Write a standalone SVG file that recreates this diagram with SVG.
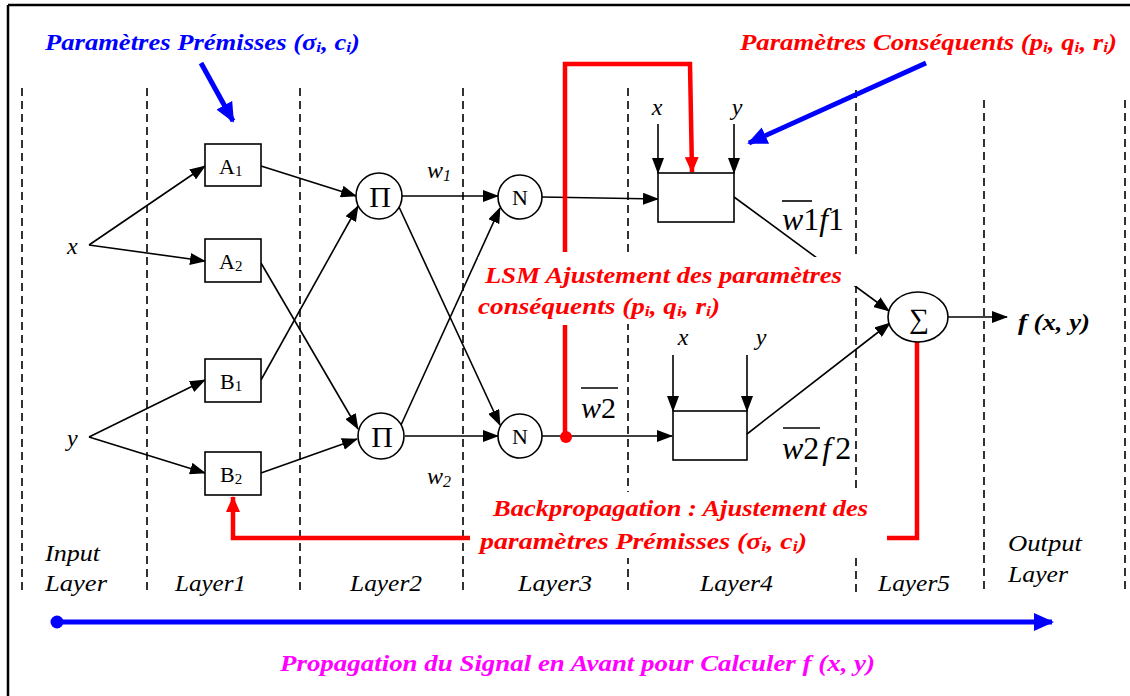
<svg xmlns="http://www.w3.org/2000/svg" width="1130" height="696" viewBox="0 0 1130 696">
<style>
.dash{stroke:#000;stroke-width:1.6;stroke-dasharray:8,5;fill:none}
.ln{stroke:#000;stroke-width:1.6;fill:none}
.box{fill:#fff;stroke:#000;stroke-width:1.6}
.red{stroke:#ff0000;stroke-width:4.5;fill:none}
.blue{stroke:#0000ff;stroke-width:5;fill:none}
.t{font-family:"Liberation Serif","Times New Roman",serif;fill:#000}
.ti{font-family:"Liberation Serif","Times New Roman",serif;font-style:italic;fill:#000}
.tbi{font-family:"Liberation Serif","Times New Roman",serif;font-style:italic;font-weight:bold}
.lay{font-family:"Liberation Serif","Times New Roman",serif;font-style:italic;font-size:23px;fill:#000}
</style>
<defs>
<marker id="ah" markerUnits="userSpaceOnUse" markerWidth="16" markerHeight="12" refX="15" refY="6" orient="auto"><path d="M0,0 L16,6 L0,12 z" fill="#000"/></marker>
<marker id="ahr" markerUnits="userSpaceOnUse" markerWidth="16" markerHeight="14" refX="15" refY="7" orient="auto"><path d="M0,0 L16,7 L0,14 z" fill="#ff0000"/></marker>
<marker id="ahb" markerUnits="userSpaceOnUse" markerWidth="20" markerHeight="18" refX="18" refY="9" orient="auto"><path d="M0,0 L20,9 L0,18 z" fill="#0000ff"/></marker>
</defs>
<rect width="1130" height="696" fill="#fff"/>
<g id="frame">
<path d="M8,5 H1130 M8,5 V696" stroke="#000" stroke-width="2.5" fill="none"/>
</g>
<g id="layer-separators">
<line class="dash" x1="22" y1="88" x2="22" y2="592"/>
<line class="dash" x1="147" y1="88" x2="147" y2="592"/>
<line class="dash" x1="300" y1="88" x2="300" y2="592"/>
<line class="dash" x1="463" y1="88" x2="463" y2="592"/>
<line class="dash" x1="628" y1="88" x2="628" y2="592"/>
<line class="dash" x1="856" y1="90" x2="856" y2="592"/>
<line class="dash" x1="984" y1="100" x2="984" y2="592"/>
<line class="dash" x1="1125" y1="100" x2="1125" y2="592"/>
</g>
<g id="connectors">
<line class="ln" x1="89" y1="245" x2="205" y2="166" marker-end="url(#ah)"/>
<line class="ln" x1="89" y1="245" x2="205" y2="261" marker-end="url(#ah)"/>
<line class="ln" x1="89" y1="437" x2="205" y2="380" marker-end="url(#ah)"/>
<line class="ln" x1="89" y1="437" x2="205" y2="473" marker-end="url(#ah)"/>
<line class="ln" x1="261" y1="166" x2="356" y2="196" marker-end="url(#ah)"/>
<line class="ln" x1="261" y1="380" x2="358" y2="206" marker-end="url(#ah)"/>
<line class="ln" x1="261" y1="263" x2="358" y2="429" marker-end="url(#ah)"/>
<line class="ln" x1="261" y1="473" x2="357" y2="439" marker-end="url(#ah)"/>
<line class="ln" x1="402" y1="196" x2="498" y2="196" marker-end="url(#ah)"/>
<line class="ln" x1="399" y1="207" x2="500" y2="425" marker-end="url(#ah)"/>
<line class="ln" x1="401" y1="425" x2="500" y2="208" marker-end="url(#ah)"/>
<line class="ln" x1="405" y1="436" x2="498" y2="436" marker-end="url(#ah)"/>
<line class="ln" x1="542" y1="197" x2="658" y2="199" marker-end="url(#ah)"/>
<line class="ln" x1="542" y1="436" x2="672" y2="436" marker-end="url(#ah)"/>
<line class="ln" x1="658" y1="124" x2="658" y2="173" marker-end="url(#ah)"/>
<line class="ln" x1="734" y1="124" x2="734" y2="173" marker-end="url(#ah)"/>
<line class="ln" x1="673" y1="355" x2="673" y2="411" marker-end="url(#ah)"/>
<line class="ln" x1="747" y1="355" x2="747" y2="411" marker-end="url(#ah)"/>
<line class="ln" x1="734" y1="197" x2="889" y2="311" marker-end="url(#ah)"/>
<line class="ln" x1="747" y1="434" x2="890" y2="323" marker-end="url(#ah)"/>
<line class="ln" x1="948" y1="317" x2="1007" y2="317" marker-end="url(#ah)"/>
<path class="red" d="M565,252 V64 H690 L692,172" marker-end="url(#ahr)"/>
<line class="red" x1="565" y1="325" x2="565" y2="437"/>
<circle cx="566" cy="437" r="6" fill="#ff0000"/>
<path class="red" d="M475,538 H233 V497" marker-end="url(#ahr)"/>
<path class="red" d="M887,538 H917 V337"/>
<circle cx="917" cy="337" r="6" fill="#ff0000"/>
<line class="blue" x1="201" y1="63" x2="233" y2="121" marker-end="url(#ahb)"/>
<line class="blue" x1="926" y1="63" x2="749" y2="143" marker-end="url(#ahb)"/>
<line class="blue" x1="57" y1="622" x2="1052" y2="622" marker-end="url(#ahb)"/>
<circle cx="57" cy="622" r="6.5" fill="#0000ff"/>
</g>
<g id="inputs">
<text class="ti" x="67" y="254" font-size="24">x</text>
<text class="ti" x="67" y="446" font-size="24">y</text>
</g>
<g id="A1"><rect class="box" x="205" y="144" width="56" height="42"/><text class="t" x="219" y="174" font-size="22">A<tspan font-size="15" dy="2">1</tspan></text></g>
<g id="A2"><rect class="box" x="205" y="239" width="56" height="43"/><text class="t" x="219" y="269" font-size="22">A<tspan font-size="15" dy="2">2</tspan></text></g>
<g id="B1"><rect class="box" x="205" y="359" width="56" height="43"/><text class="t" x="220" y="389" font-size="22">B<tspan font-size="15" dy="2">1</tspan></text></g>
<g id="B2"><rect class="box" x="205" y="452" width="56" height="43"/><text class="t" x="220" y="482" font-size="22">B<tspan font-size="15" dy="2">2</tspan></text></g>
<g id="P1"><circle class="box" cx="379" cy="196" r="23"/><text class="t" x="380" y="207" font-size="30" text-anchor="middle">Π</text></g>
<g id="P2"><circle class="box" cx="381" cy="436" r="23"/><text class="t" x="382" y="447" font-size="30" text-anchor="middle">Π</text></g>
<g id="N1"><circle class="box" cx="520" cy="197" r="22"/><text class="t" x="520" y="205" font-size="22" text-anchor="middle">N</text></g>
<g id="N2"><circle class="box" cx="520" cy="436" r="22"/><text class="t" x="520" y="444" font-size="22" text-anchor="middle">N</text></g>
<g id="weights">
<text class="ti" x="427" y="178" font-size="24">w<tspan font-size="16" dy="3">1</tspan></text>
<text class="ti" x="427" y="484" font-size="24">w<tspan font-size="16" dy="3">2</tspan></text>
<text class="t" x="581" y="418" font-size="30"><tspan font-style="italic">w</tspan>2</text>
<line class="ln" x1="581" y1="388" x2="618" y2="388" stroke-width="1.3"/>
</g>
<g id="Box1">
<rect class="box" x="658" y="173" width="76" height="49"/>
<text class="ti" x="657" y="115" font-size="24" text-anchor="middle">x</text>
<text class="ti" x="737" y="115" font-size="24" text-anchor="middle">y</text>
<text class="t" x="782" y="230" font-size="31" textLength="62" lengthAdjust="spacingAndGlyphs"><tspan font-style="italic">w</tspan>1<tspan font-style="italic">f</tspan>1</text>
<line class="ln" x1="782" y1="201" x2="812" y2="201" stroke-width="1.3"/>
</g>
<g id="Box2">
<rect class="box" x="673" y="411" width="74" height="49"/>
<text class="ti" x="683" y="345" font-size="24" text-anchor="middle">x</text>
<text class="ti" x="761" y="345" font-size="24" text-anchor="middle">y</text>
<text class="t" x="782" y="459" font-size="32"><tspan font-style="italic">w</tspan>2<tspan font-style="italic" dx="3">f</tspan><tspan dx="4">2</tspan></text>
<line class="ln" x1="783" y1="428" x2="820" y2="428" stroke-width="1.3"/>
</g>
<g id="Sigma">
<ellipse class="box" cx="918" cy="317" rx="30" ry="25"/>
<text x="919" y="328" font-size="28" text-anchor="middle" font-family="Liberation Serif,DejaVu Serif,serif">∑</text>
<text class="tbi" x="1018" y="330" font-size="24" fill="#000" textLength="72" lengthAdjust="spacingAndGlyphs">f (x, y)</text>
</g>
<g id="label-LSM">
<rect x="478" y="257" width="380" height="29" fill="#fff"/>
<rect x="478" y="286" width="248" height="38" fill="#fff"/>
<text class="tbi" x="485" y="283" font-size="23" fill="#ff0000" textLength="357" lengthAdjust="spacingAndGlyphs">LSM Ajustement des paramètres</text>
<text class="tbi" x="478" y="314" font-size="23" fill="#ff0000" textLength="242" lengthAdjust="spacingAndGlyphs">conséquents (p<tspan font-size="15" dy="2">i</tspan><tspan dy="-2">, q</tspan><tspan font-size="15" dy="2">i</tspan><tspan dy="-2">, r</tspan><tspan font-size="15" dy="2">i</tspan><tspan dy="-2">)</tspan></text>
</g>
<g id="label-backprop">
<rect x="470" y="492" width="410" height="66" fill="#fff"/>
<text class="tbi" x="493" y="516" font-size="23" fill="#ff0000" textLength="375" lengthAdjust="spacingAndGlyphs">Backpropagation : Ajustement des</text>
<text class="tbi" x="480" y="549" font-size="23" fill="#ff0000" textLength="327" lengthAdjust="spacingAndGlyphs">paramètres Prémisses (σ<tspan font-size="15" dy="2">i</tspan><tspan dy="-2">, c</tspan><tspan font-size="15" dy="2">i</tspan><tspan dy="-2">)</tspan></text>
</g>
<g id="label-premisses">
<text class="tbi" x="45" y="50" font-size="23" fill="#0000ff" textLength="315" lengthAdjust="spacingAndGlyphs">Paramètres Prémisses (σ<tspan font-size="15" dy="2">i</tspan><tspan dy="-2">, c</tspan><tspan font-size="15" dy="2">i</tspan><tspan dy="-2">)</tspan></text>
</g>
<g id="label-consequents">
<text class="tbi" x="740" y="50" font-size="23" fill="#ff0000" textLength="377" lengthAdjust="spacingAndGlyphs">Paramètres Conséquents (p<tspan font-size="15" dy="2">i</tspan><tspan dy="-2">, q</tspan><tspan font-size="15" dy="2">i</tspan><tspan dy="-2">, r</tspan><tspan font-size="15" dy="2">i</tspan><tspan dy="-2">)</tspan></text>
</g>
<g id="layer-labels">
<text class="lay" x="45" y="561" textLength="55" lengthAdjust="spacingAndGlyphs">Input</text>
<text class="lay" x="45" y="591" textLength="62" lengthAdjust="spacingAndGlyphs">Layer</text>
<text class="lay" x="175" y="591" textLength="71" lengthAdjust="spacingAndGlyphs">Layer1</text>
<text class="lay" x="350" y="591" textLength="72" lengthAdjust="spacingAndGlyphs">Layer2</text>
<text class="lay" x="518" y="591" textLength="74" lengthAdjust="spacingAndGlyphs">Layer3</text>
<text class="lay" x="700" y="591" textLength="73" lengthAdjust="spacingAndGlyphs">Layer4</text>
<text class="lay" x="878" y="591" textLength="72" lengthAdjust="spacingAndGlyphs">Layer5</text>
<text class="lay" x="1008" y="551" textLength="74" lengthAdjust="spacingAndGlyphs">Output</text>
<text class="lay" x="1008" y="582" textLength="60" lengthAdjust="spacingAndGlyphs">Layer</text>
</g>
<g id="label-forward">
<text class="tbi" x="280" y="671" font-size="24" fill="#ff00ff" textLength="595" lengthAdjust="spacingAndGlyphs">Propagation du Signal en Avant pour Calculer f (x, y)</text>
</g>
</svg>
